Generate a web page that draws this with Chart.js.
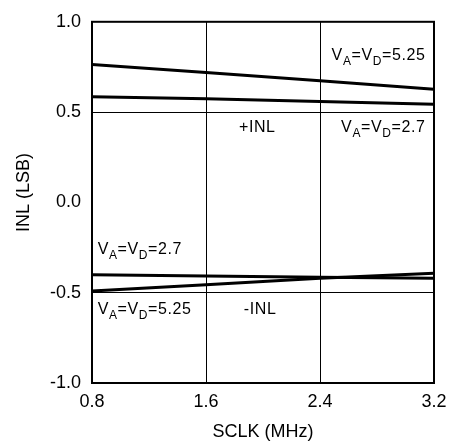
<!DOCTYPE html>
<html lang="en">
<head>
    <meta charset="UTF-8">
    <title>INL vs SCLK</title>
    <script src="https://cdn.jsdelivr.net/npm/chart.js"></script>
    <style>
        html, body { margin: 0; padding: 0; background: #fff; }
        #wrap { width: 455px; height: 443px; }
    </style>
</head>
<body>
    <div id="wrap"><canvas id="inlChart" width="455" height="443"></canvas></div>

    <script>
        // SCLK frequencies (MHz)
        var sclk = [0.8, 1.6, 2.4, 3.2];
        // INL readings (LSB)
        var posInl525 = [0.763, 0.719, 0.673, 0.627];
        var posInl27 = [0.585, 0.574, 0.559, 0.543];
        var negInl27 = [-0.401, -0.407, -0.414, -0.420];
        var negInl525 = [-0.491, -0.456, -0.420, -0.392];

        var FONT = "'Liberation Sans', Arial, sans-serif";

        function toPoints(ys) {
            return sclk.map(function(x, i) { return { x: x, y: ys[i] }; });
        }

        function series(ys) {
            return {
                data: toPoints(ys),
                borderColor: "#000",
                borderWidth: 3,
                pointRadius: 0,
                tension: 0,
                fill: false
            };
        }

        // text labels placed in data coordinates
        var labels = [
            { x: 3.14, y: 0.79, sub: true, val: "5.25", align: "right" },
            { x: 1.96, y: 0.388, text: "+INL", align: "center" },
            { x: 3.14, y: 0.388, sub: true, val: "2.7", align: "right" },
            { x: 0.84, y: -0.284, sub: true, val: "2.7", align: "left" },
            { x: 0.84, y: -0.616, sub: true, val: "5.25", align: "left" },
            { x: 1.98, y: -0.616, text: "-INL", align: "center" }
        ];

        function drawLabel(ctx, px, py, lab) {
            var big = "16px " + FONT, small = "12px " + FONT;
            var parts;
            if (lab.sub) {
                parts = [["V", big, 0], ["A", small, 5], ["=V", big, 0], ["D", small, 5], ["=" + lab.val, big, 0]];
            } else {
                parts = [[lab.text, big, 0]];
            }
            var w = 0;
            parts.forEach(function(p) { ctx.font = p[1]; w += ctx.measureText(p[0]).width + 0.6 * p[0].length; });
            var x = px;
            if (lab.align === "right") x = px - w;
            if (lab.align === "center") x = px - w / 2;
            ctx.fillStyle = "#000";
            ctx.textAlign = "left";
            ctx.textBaseline = "alphabetic";
            parts.forEach(function(p) {
                ctx.font = p[1];
                for (var i = 0; i < p[0].length; i++) {
                    ctx.fillText(p[0][i], x, py + p[2]);
                    x += ctx.measureText(p[0][i]).width + 0.6;
                }
            });
        }

        var labelPlugin = {
            id: "labelPlugin",
            afterDatasetsDraw: function(chart) {
                var ctx = chart.ctx;
                var xs = chart.scales.x, ys = chart.scales.y;
                ctx.save();
                labels.forEach(function(lab) {
                    drawLabel(ctx, xs.getPixelForValue(lab.x), ys.getPixelForValue(lab.y), lab);
                });
                ctx.restore();
            }
        };

        var boxPlugin = {
            id: "boxPlugin",
            afterDatasetsDraw: function(chart) {
                var a = chart.chartArea, ctx = chart.ctx;
                ctx.save();
                ctx.strokeStyle = "#000";
                ctx.lineWidth = 2;
                ctx.strokeRect(a.left, a.top, a.right - a.left, a.bottom - a.top);
                ctx.restore();
            }
        };

        new Chart(document.getElementById("inlChart"), {
            type: "line",
            data: {
                datasets: [series(posInl525), series(posInl27), series(negInl27), series(negInl525)]
            },
            options: {
                responsive: false,
                animation: false,
                layout: { padding: { top: 20, right: 21, left: 0, bottom: 0 } },
                plugins: { legend: { display: false }, tooltip: { enabled: false } },
                scales: {
                    x: {
                        type: "linear",
                        min: 0.8,
                        max: 3.2,
                        afterFit: function(s) { s.height = 60; },
                        ticks: {
                            stepSize: 0.8,
                            color: "#000",
                            font: { family: FONT, size: 18 },
                            padding: 8,
                            callback: function(v) { return v.toFixed(1); }
                        },
                        grid: {
                            drawTicks: false,
                            color: function(c) {
                                var v = c.tick && c.tick.value;
                                return (Math.abs(v - 1.6) < 1e-6 || Math.abs(v - 2.4) < 1e-6) ? "#000" : "rgba(0,0,0,0)";
                            },
                            lineWidth: 1
                        },
                        border: { display: false },
                        title: {
                            display: true,
                            text: "SCLK (MHz)",
                            color: "#000",
                            font: { family: FONT, size: 18 },
                            padding: { top: 0, bottom: 0 }
                        }
                    },
                    y: {
                        min: -1,
                        max: 1,
                        afterFit: function(s) { s.width = 92; },
                        ticks: {
                            stepSize: 0.5,
                            color: "#000",
                            font: { family: FONT, size: 18 },
                            padding: 11,
                            callback: function(v) { return v.toFixed(1); }
                        },
                        grid: {
                            drawTicks: false,
                            color: function(c) {
                                var v = c.tick && c.tick.value;
                                return Math.abs(Math.abs(v) - 0.5) < 1e-6 ? "#000" : "rgba(0,0,0,0)";
                            },
                            lineWidth: 1
                        },
                        border: { display: false },
                        title: {
                            display: true,
                            text: "\u00a0\u00a0\u00a0\u00a0INL (LSB)",
                            color: "#000",
                            font: { family: FONT, size: 18 },
                            padding: { top: 13, bottom: 0 }
                        }
                    }
                }
            },
            plugins: [boxPlugin, labelPlugin]
        });
    </script>
</body>
</html>
